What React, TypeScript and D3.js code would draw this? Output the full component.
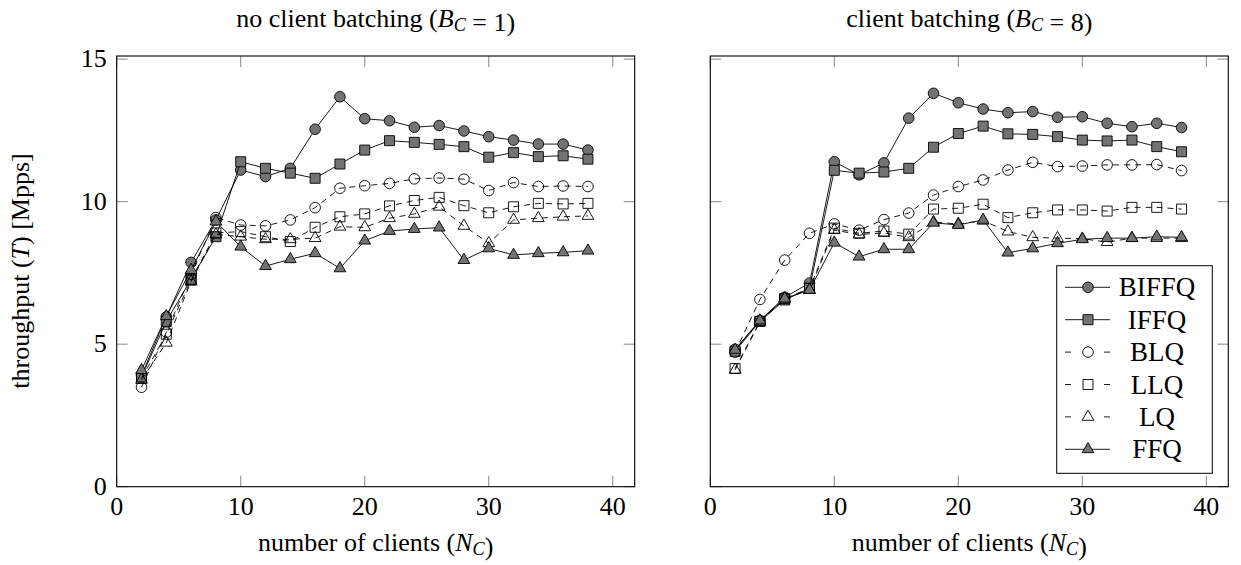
import React from 'react'
import * as d3 from 'd3'

const W = 1241
const H = 565
const FONT = '"Liberation Serif", "Times New Roman", serif'
const FS = 26

const clients = [2, 4, 6, 8, 10, 12, 14, 16, 18, 20, 22, 24, 26, 28, 30, 32, 34, 36, 38]
const xTicks = [0, 10, 20, 30, 40]
const yTicks = [0, 5, 10, 15]

// no client batching (B_C = 1)
const biffq1 = [3.9, 5.96, 7.87, 9.36, 11.11, 10.88, 11.17, 12.54, 13.68, 12.91, 12.84, 12.61, 12.67, 12.48, 12.28, 12.16, 12.02, 12.02, 11.81]
const iffq1 = [3.85, 5.8, 7.28, 8.77, 11.4, 11.17, 11.0, 10.82, 11.32, 11.81, 12.14, 12.08, 12.01, 11.93, 11.56, 11.72, 11.58, 11.61, 11.49]
const blq1 = [3.49, 5.42, 7.45, 9.44, 9.18, 9.15, 9.36, 9.79, 10.47, 10.56, 10.64, 10.8, 10.83, 10.79, 10.39, 10.67, 10.53, 10.55, 10.53]
const llq1 = [3.8, 5.35, 7.25, 8.9, 8.95, 8.77, 8.6, 9.1, 9.47, 9.57, 9.85, 10.04, 10.15, 9.86, 9.61, 9.82, 9.94, 9.92, 9.94]
const lq1 = [3.75, 5.05, 7.2, 8.85, 8.77, 8.68, 8.68, 8.72, 9.12, 9.1, 9.42, 9.57, 9.82, 9.15, 8.54, 9.36, 9.42, 9.47, 9.5]
const ffq1 = [4.09, 5.98, 7.6, 9.3, 8.42, 7.74, 7.98, 8.19, 7.66, 8.63, 8.97, 9.04, 9.09, 7.95, 8.36, 8.13, 8.19, 8.22, 8.28]

// client batching (B_C = 8)
const biffq8 = [4.82, 5.83, 6.65, 7.14, 11.4, 10.94, 11.36, 12.93, 13.8, 13.47, 13.25, 13.12, 13.16, 12.96, 12.98, 12.75, 12.63, 12.75, 12.6]
const iffq8 = [4.75, 5.8, 6.55, 6.96, 11.1, 11.0, 11.04, 11.17, 11.91, 12.39, 12.65, 12.38, 12.36, 12.28, 12.16, 12.13, 12.16, 11.93, 11.75]
const blq8 = [4.72, 6.57, 7.95, 8.89, 9.22, 9.0, 9.37, 9.6, 10.23, 10.53, 10.76, 11.11, 11.38, 11.23, 11.25, 11.29, 11.29, 11.3, 11.09]
const llq8 = [4.15, 5.8, 6.6, 6.96, 9.07, 8.89, 8.97, 8.86, 9.74, 9.77, 9.91, 9.44, 9.61, 9.71, 9.71, 9.67, 9.8, 9.8, 9.74]
const lq8 = [4.1, 5.78, 6.6, 6.9, 9.0, 8.85, 8.9, 8.75, 9.28, 9.22, 9.33, 8.95, 8.75, 8.72, 8.7, 8.58, 8.72, 8.72, 8.72]
const ffq8 = [4.8, 5.83, 6.6, 6.9, 8.56, 8.07, 8.33, 8.33, 9.26, 9.18, 9.36, 8.21, 8.36, 8.54, 8.68, 8.72, 8.72, 8.77, 8.75]

const names = ['BIFFQ', 'IFFQ', 'BLQ', 'LLQ', 'LQ', 'FFQ']
const markers = ['circle', 'square', 'circle', 'square', 'triangle', 'triangle']
const filled = [true, true, false, false, false, true]
const dashed = [false, false, true, true, true, false]

const GRAY = '#737373'

const markPath = (kind: string) => {
  if (kind === 'circle') return d3.symbol().type(d3.symbolCircle).size(Math.PI * 5.3 * 5.3)()
  if (kind === 'square') return d3.symbol().type(d3.symbolSquare).size(100)()
  return d3.symbol().type(d3.symbolTriangle).size(60)()
}

const Marker = ({ kind, fill, x, y }: { kind: string; fill: boolean; x: number; y: number }) => (
  <path
    d={markPath(kind) || ''}
    transform={`translate(${x},${y})`}
    fill={fill ? GRAY : 'none'}
    stroke="#000"
    strokeWidth={0.9}
  />
)

const Sub = ({ main, sub }: { main: string; sub: string }) => (
  <>
    <tspan fontStyle="italic">{main}</tspan>
    <tspan fontStyle="italic" fontSize={FS * 0.7} dy={4}>{sub}</tspan>
    <tspan dy={-4}></tspan>
  </>
)

const Panel = ({ left, series, title, yLabels }: { left: number; series: number[][]; title: React.ReactNode; yLabels: boolean }) => {
  const top = 56
  const bottom = 486.7
  const right = left + 518
  const x = d3.scaleLinear().domain([0, 41.77]).range([left, right])
  const y = d3.scaleLinear().domain([0, 15.11]).range([bottom, top])
  const line = d3.line<number>().x((_, i) => x(clients[i])).y(v => y(v))
  const tl = 11
  return (
    <g>
      <text x={(left + right) / 2} y={27} textAnchor="middle" fontFamily={FONT} fontSize={FS}>{title}</text>
      {xTicks.map(t => (
        <g key={'x' + t}>
          <line x1={x(t)} x2={x(t)} y1={bottom} y2={bottom - tl} stroke="#888" />
          <line x1={x(t)} x2={x(t)} y1={top} y2={top + tl} stroke="#888" />
          <text x={x(t)} y={bottom + 28} textAnchor="middle" fontFamily={FONT} fontSize={FS}>{t}</text>
        </g>
      ))}
      {yTicks.map(t => (
        <g key={'y' + t}>
          <line x1={left} x2={left + tl} y1={y(t)} y2={y(t)} stroke="#888" />
          <line x1={right} x2={right - tl} y1={y(t)} y2={y(t)} stroke="#888" />
          {yLabels && (
            <text x={left - 10} y={y(t) + 8} textAnchor="end" fontFamily={FONT} fontSize={FS}>{t}</text>
          )}
        </g>
      ))}
      {series.map((vals, s) => (
        <g key={names[s]}>
          <path d={line(vals) || ''} fill="none" stroke="#000" strokeWidth={0.9} strokeDasharray={dashed[s] ? '6,5' : undefined} />
          {vals.map((v, i) => (
            <Marker key={i} kind={markers[s]} fill={filled[s]} x={x(clients[i])} y={y(v)} />
          ))}
        </g>
      ))}
      <rect x={left} y={top} width={right - left} height={bottom - top} fill="none" stroke="#000" strokeWidth={1.1} />
      <text x={(left + right) / 2} y={551} textAnchor="middle" fontFamily={FONT} fontSize={FS}>
        number of clients (<Sub main="N" sub="C" />)
      </text>
    </g>
  )
}

const Legend = () => {
  const lx = 1056.7
  const ly = 265.7
  const rowY = d3.scaleLinear().domain([0, 5]).range([287.3, 449.3])
  return (
    <g>
      <rect x={lx} y={ly} width={155.6} height={207.6} fill="#fff" stroke="#000" strokeWidth={1} />
      {names.map((n, i) => (
        <g key={n}>
          <line x1={1065} x2={1110} y1={rowY(i)} y2={rowY(i)} stroke="#000" strokeWidth={0.9} strokeDasharray={dashed[i] ? '6,33,6' : undefined} />
          <Marker kind={markers[i]} fill={filled[i]} x={1088} y={rowY(i)} />
          <text x={1157} y={rowY(i) + 9} textAnchor="middle" fontFamily={FONT} fontSize={27}>{n}</text>
        </g>
      ))}
    </g>
  )
}

const App = () => (
  <svg width={W} height={H} style={{ position: 'absolute', left: 0, top: 0, background: '#fff' }}>
    <Panel
      left={116.7}
      series={[biffq1, iffq1, blq1, llq1, lq1, ffq1]}
      yLabels={true}
      title={<>no client batching (<Sub main="B" sub="C" /> = 1)</>}
    />
    <Panel
      left={710.3}
      series={[biffq8, iffq8, blq8, llq8, lq8, ffq8]}
      yLabels={false}
      title={<>client batching (<Sub main="B" sub="C" /> = 8)</>}
    />
    <text
      transform="translate(29,271) rotate(-90)"
      textAnchor="middle"
      fontFamily={FONT}
      fontSize={FS}
    >
      throughput (<tspan fontStyle="italic">T</tspan>) [Mpps]
    </text>
    <Legend />
  </svg>
)

export default App
